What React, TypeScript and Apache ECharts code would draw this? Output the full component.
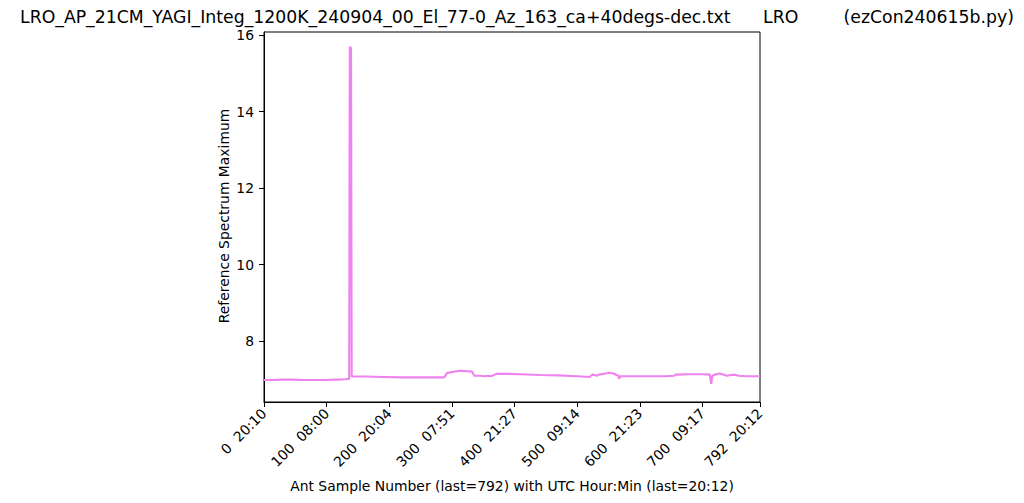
import React, { useEffect, useRef } from "react";
import * as echarts from "echarts";

const titleMain = "LRO_AP_21CM_YAGI_Integ_1200K_240904_00_El_77-0_Az_163_ca+40degs-dec.txt";
const titleMid = "LRO";
const titleRight = "(ezCon240615b.py)";
const xAxisTitle = "Ant Sample Number (last=792) with UTC Hour:Min (last=20:12)";
const yAxisTitle = "Reference Spectrum Maximum";

const xTickValues = [0, 100, 200, 300, 400, 500, 600, 700, 792];
const xTickTimes = ["20:10", "08:00", "20:04", "07:51", "21:27", "09:14", "21:23", "09:17", "20:12"];
const yTickValues = [8, 10, 12, 14, 16];

// [sample number, reference spectrum maximum]
const samples = [
  0, 15, 30, 45, 60, 80, 100, 115, 130, 136, 137, 139, 140, 160, 190, 220, 250, 270, 288, 292,
  300, 313, 325, 332, 336, 345, 352, 358, 362, 366, 371, 390, 410, 440, 470, 500, 520, 524, 528,
  531, 535, 545, 552, 558, 563, 566, 567, 569, 580, 610, 640, 655, 657, 680, 700, 712, 714, 716,
  722, 728, 734, 739, 746, 752, 758, 770, 792,
];
const values = [
  6.98, 6.98, 6.99, 6.99, 6.98, 6.98, 6.98, 6.99, 7.0, 7.01, 15.69, 15.66, 7.07, 7.07, 7.06, 7.05,
  7.05, 7.05, 7.05, 7.16, 7.19, 7.22, 7.21, 7.2, 7.09, 7.09, 7.08, 7.09, 7.08, 7.1, 7.14, 7.14,
  7.13, 7.11, 7.1, 7.08, 7.06, 7.12, 7.11, 7.09, 7.12, 7.15, 7.17, 7.15, 7.11, 7.09, 7.01, 7.08,
  7.08, 7.08, 7.08, 7.09, 7.12, 7.13, 7.13, 7.12, 6.88, 7.09, 7.13, 7.15, 7.12, 7.09, 7.11, 7.12,
  7.09, 7.08, 7.08,
];

const FONT = "DejaVu Sans";
const TICK_FS = 13.9;
const TITLE_FS = 17.3;

export default function App() {
  const ref = useRef<HTMLDivElement>(null);
  useEffect(() => {
    if (!ref.current) return;
    const chart = echarts.init(ref.current, undefined, { renderer: "svg" });
    const data = samples.map((s, i) => [s, values[i]]);
    chart.setOption({
      animation: false,
      backgroundColor: "#ffffff",
      grid: {
        left: 264,
        right: 264,
        top: 32,
        bottom: 101,
        show: true,
        borderColor: "#000000",
        borderWidth: 1,
        backgroundColor: "transparent",
      },
      xAxis: {
        type: "value",
        min: 0,
        max: 792,
        splitLine: { show: false },
        axisLine: { show: true, lineStyle: { color: "#000", width: 1 } },
        axisTick: {
          show: true,
          length: 5,
          customValues: xTickValues,
          lineStyle: { color: "#000", width: 1 },
        },
        axisLabel: {
          customValues: xTickValues,
          rotate: 45,
          margin: 9,
          color: "#000",
          fontFamily: FONT,
          fontSize: TICK_FS,
          formatter: (v: number) => {
            const i = xTickValues.indexOf(Math.round(v));
            return i >= 0 ? `${xTickValues[i]}  ${xTickTimes[i]}` : "";
          },
        },
      },
      yAxis: {
        type: "value",
        min: 6.405,
        max: 16.08,
        splitLine: { show: false },
        axisLine: { show: true, lineStyle: { color: "#000", width: 1 } },
        axisTick: {
          show: true,
          length: 5,
          customValues: yTickValues,
          lineStyle: { color: "#000", width: 1 },
        },
        axisLabel: {
          customValues: yTickValues,
          margin: 10,
          color: "#000",
          fontFamily: FONT,
          fontSize: TICK_FS,
          formatter: (v: number) => String(Math.round(v)),
        },
      },
      series: [
        {
          type: "line",
          data,
          showSymbol: false,
          symbol: "none",
          lineStyle: { color: "#ee82ee", width: 2.1 },
          itemStyle: { color: "#ee82ee" },
        },
      ],
      graphic: [
        {
          type: "text",
          x: 20,
          y: 17,
          style: { text: titleMain, fontFamily: FONT, fontSize: TITLE_FS, fill: "#000", align: "left", verticalAlign: "middle" },
        },
        {
          type: "text",
          x: 763,
          y: 17,
          style: { text: titleMid, fontFamily: FONT, fontSize: TITLE_FS, fill: "#000", align: "left", verticalAlign: "middle" },
        },
        {
          type: "text",
          x: 1014,
          y: 17,
          style: { text: titleRight, fontFamily: FONT, fontSize: TITLE_FS, fill: "#000", align: "right", verticalAlign: "middle" },
        },
        {
          type: "text",
          x: 512,
          y: 486,
          style: { text: xAxisTitle, fontFamily: FONT, fontSize: TICK_FS, fill: "#000", align: "center", verticalAlign: "middle" },
        },
        {
          type: "text",
          x: 224,
          y: 216,
          rotation: Math.PI / 2,
          style: { text: yAxisTitle, fontFamily: FONT, fontSize: TICK_FS, fill: "#000", align: "center", verticalAlign: "middle" },
        },
      ],
    });
    return () => chart.dispose();
  }, []);
  return (
    <div
      ref={ref}
      style={{ position: "fixed", left: 0, top: 0, width: 1024, height: 503, background: "#fff" }}
    />
  );
}
